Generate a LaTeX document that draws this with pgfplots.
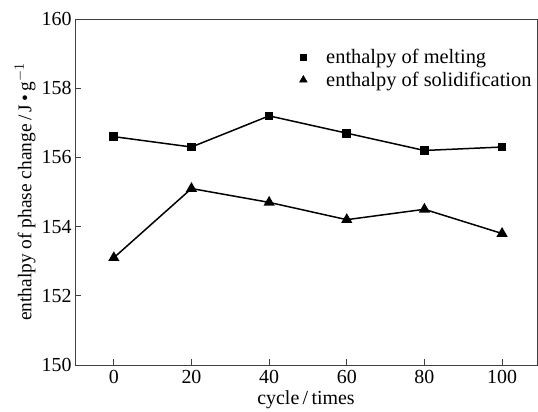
\documentclass[border=0pt]{standalone}
\usepackage{pgfplots}
\pgfplotsset{compat=1.18}
\usepackage{fontspec}
\setmainfont{Liberation Serif}
\begin{document}
\begin{tikzpicture}
\begin{axis}[
  name=ax,
  scale only axis,
  width=462bp, height=346bp,
  xmin=-10, xmax=109,
  ymin=150, ymax=160,
  xtick={0,20,40,60,80,100},
  ytick={150,152,154,156,158,160},
  tick align=inside,
  xtick pos=bottom, ytick pos=left,
  major tick length=6bp,
  axis line style={black!75, line width=0.9pt},
  every tick/.style={black!75, line width=0.9pt},
  /pgf/number format/assume math mode=true,
  ticklabel style={font=\fontsize{20}{24}\selectfont},
  xticklabel style={inner sep=0.5bp, yshift=-5bp},
  xlabel={cycle\,/\,times},
  ylabel={enthalpy of phase change\,/\,J\,\textbullet\,g$^{-1}$},
  xlabel style={font=\fontsize{20}{24}\selectfont, inner sep=0pt, at={([yshift=-39.5bp]rel axis cs:0.5,0)}, anchor=base},
  ylabel style={font=\fontsize{19.5}{22}\selectfont, at={([xshift=-50bp]rel axis cs:0,0.5)}, anchor=center},
  legend style={draw=none, fill=none, at={(0.479,0.925)}, anchor=north west,
    font=\fontsize{20.5}{24}\selectfont, row sep=3bp,
    /tikz/every odd column/.append style={column sep=17bp}},
  legend cell align=left,
]
\addplot[black, line width=1.5pt, mark=square*, mark size=3.6pt, forget plot] coordinates {
(0,156.6) (20,156.3) (40,157.2) (60,156.7) (80,156.2) (100,156.3)};
\addplot[black, line width=1.5pt, mark=triangle*, mark size=5pt, forget plot] coordinates {
(0,153.1) (20,155.1) (40,154.7) (60,154.2) (80,154.5) (100,153.8)};
\addlegendimage{only marks, black, mark=square*, mark size=3.2pt}
\addlegendentry{enthalpy of melting}
\addlegendimage{only marks, black, mark=triangle*, mark size=4.5pt}
\addlegendentry{enthalpy of solidification}
\end{axis}
\path (ax.south west) ++(-75bp,-47bp);
\path (ax.north east) ++(1bp,19bp);
\end{tikzpicture}
\end{document}
